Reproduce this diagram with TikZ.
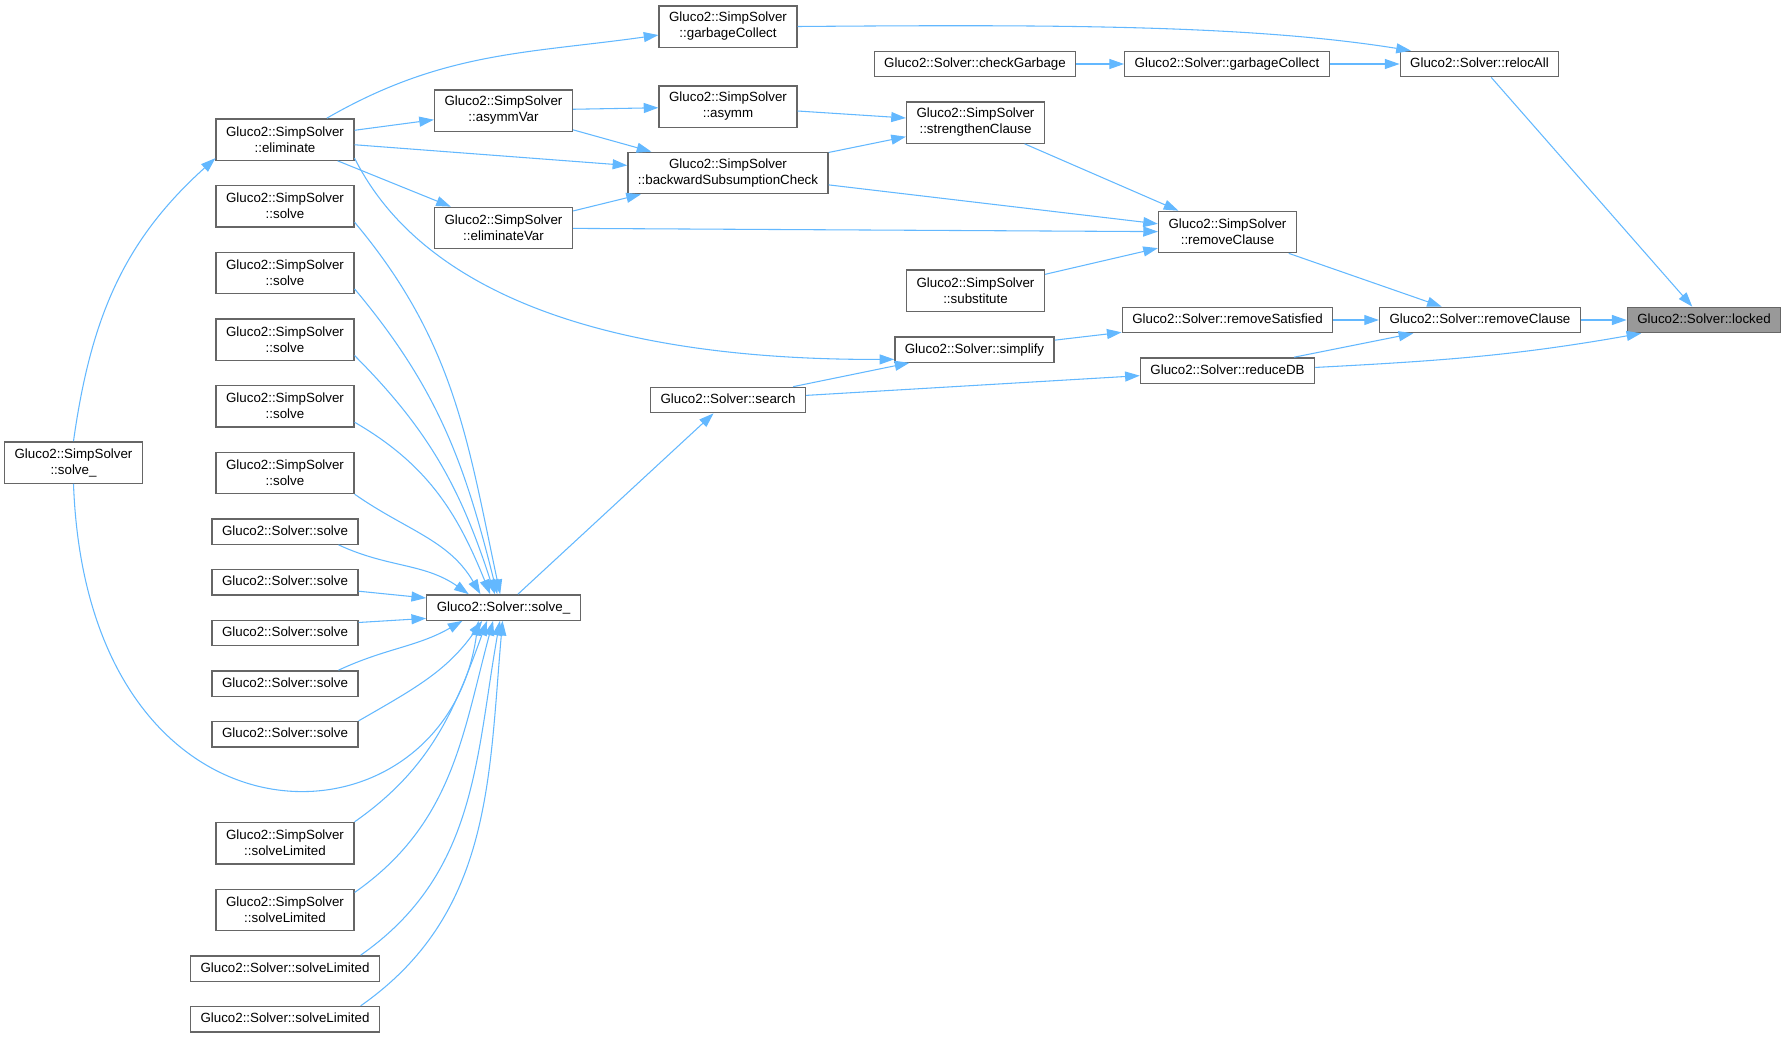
\documentclass[tikz,border=0pt]{standalone}
\usepackage{fontspec}
\setmainfont{Liberation Sans}
\usepackage{tikz}
\usetikzlibrary{arrows.meta,positioning}
\definecolor{callblue}{HTML}{63B8FF}
\definecolor{frame}{HTML}{666666}
\definecolor{focus}{HTML}{999999}

\begin{document}
\begin{tikzpicture}[
    x=0.75pt,y=0.75pt,
    node distance=18pt,
    box/.style={draw=frame,line width=1pt,fill=white,inner xsep=7.5pt,inner ysep=0pt,font=\fontsize{10}{12}\selectfont},
    fn/.style={box,minimum height=19pt,text height=7.5pt,text depth=2.1pt},
    member/.style={box,align=center,minimum height=31pt},
    focusbox/.style={fn,fill=focus},
    call/.style={-{Triangle[length=11pt,width=7.5pt]},draw=callblue,line width=0.8pt}
  ]
    \useasboundingbox (0,0) rectangle (1786,-1039);
    % left column
    \node[member] (ssolveU) at (73.5,-462.5) {Gluco2::SimpSolver\\::solve\_};
    \node[member] (elim) at (285,-139.5) {Gluco2::SimpSolver\\::eliminate};
    \node[member,below=of elim] (ssolve1) {Gluco2::SimpSolver\\::solve};
    \node[member,below=of ssolve1] (ssolve2) {Gluco2::SimpSolver\\::solve};
    \node[member,below=of ssolve2] (ssolve3) {Gluco2::SimpSolver\\::solve};
    \node[member,below=of ssolve3] (ssolve4) {Gluco2::SimpSolver\\::solve};
    \node[member,below=of ssolve4] (ssolve5) {Gluco2::SimpSolver\\::solve};
    \node[fn,below=of ssolve5] (solve1) {Gluco2::Solver::solve};
    \node[fn,below=of solve1] (solve2) {Gluco2::Solver::solve};
    \node[fn,below=of solve2] (solve3) {Gluco2::Solver::solve};
    \node[fn,below=of solve3] (solve4) {Gluco2::Solver::solve};
    \node[fn,below=of solve4] (solve5) {Gluco2::Solver::solve};
    \node[member,below=55.75pt of solve5] (sslim1) {Gluco2::SimpSolver\\::solveLimited};
    \node[member,below=of sslim1] (sslim2) {Gluco2::SimpSolver\\::solveLimited};
    \node[fn,below=of sslim2] (slim1) {Gluco2::Solver::solveLimited};
    \node[fn,below=of slim1] (slim2) {Gluco2::Solver::solveLimited};
    % middle
    \node[member] (asymmVar) at (503.5,-110.5) {Gluco2::SimpSolver\\::asymmVar};
    \node[member] (elimVar) at (503.5,-228) {Gluco2::SimpSolver\\::eliminateVar};
    \node[fn] (solveU) at (503.5,-607.5) {Gluco2::Solver::solve\_};
    \node[member] (sgc) at (728,-26.5) {Gluco2::SimpSolver\\::garbageCollect};
    \node[member] (asymm) at (728,-106.5) {Gluco2::SimpSolver\\::asymm};
    \node[member] (bsc) at (728,-173) {Gluco2::SimpSolver\\::backwardSubsumptionCheck};
    \node[fn] (search) at (728,-400) {Gluco2::Solver::search};
    \node[fn] (checkGc) at (975,-64) {Gluco2::Solver::checkGarbage};
    \node[member] (strengthen) at (975.5,-122.5) {Gluco2::SimpSolver\\::strengthenClause};
    \node[member] (substitute) at (975.5,-290.5) {Gluco2::SimpSolver\\::substitute};
    \node[fn] (simplify) at (974.5,-349.5) {Gluco2::Solver::simplify};
    % right
    \node[fn] (gc) at (1227,-64) {Gluco2::Solver::garbageCollect};
    \node[member] (ssRemove) at (1227.5,-232) {Gluco2::SimpSolver\\::removeClause};
    \node[fn] (removeSat) at (1227.5,-320) {Gluco2::Solver::removeSatisfied};
    \node[fn] (reduceDB) at (1227.5,-370.5) {Gluco2::Solver::reduceDB};
    \node[fn] (relocAll) at (1479.5,-64) {Gluco2::Solver::relocAll};
    \node[fn] (sRemove) at (1480,-320) {Gluco2::Solver::removeClause};
    \node[focusbox] (locked) at (1704,-320) {Gluco2::Solver::locked};

    \draw[call] (ssolveU.north) to[out=82,in=222] (elim.195);
    \draw[call] (ssolveU.south) .. controls +(14,-386) and +(-33,-239) .. (solveU.208);
    \draw[call] (elim.27) to[out=30,in=188] (sgc.187);
    \draw[call] (elim) -- (asymmVar);
    \draw[call] (elim) -- (bsc);
    \draw[call] (elim) -- (elimVar);
    \draw[call] (elim.-15) .. controls +(66,-132) and +(-294,-1) .. (simplify.187);
    \draw[call] (asymmVar) -- (asymm);
    \draw[call] (asymmVar) -- (bsc);
    \draw[call] (elimVar) -- (bsc);
    \draw[call] (elimVar) -- (ssRemove);
    \draw[call] (asymm) -- (strengthen);
    \draw[call] (bsc) -- (strengthen);
    \draw[call] (bsc) -- (ssRemove);
    \draw[call] (strengthen) -- (ssRemove);
    \draw[call] (substitute) -- (ssRemove);
    \draw[call] (ssRemove) -- (sRemove);
    \draw[call] (removeSat) -- (sRemove);
    \draw[call] (reduceDB) -- (sRemove);
    \draw[call] (sRemove) -- (locked);
    \draw[call] (reduceDB.2) to[out=3,in=190] (locked.192);
    \draw[call] (relocAll) -- (locked);
    \draw[call] (sgc.east) .. controls +(253,2) and +(-162,26) .. (relocAll.169);
    \draw[call] (checkGc) -- (gc);
    \draw[call] (gc) -- (relocAll);
    \draw[call] (simplify) -- (removeSat);
    \draw[call] (search) -- (simplify);
    \draw[call] (search) -- (reduceDB);
    \draw[call] (solveU) -- (search);
    % callers of solve_
    \draw[call] (ssolve1.-13) to[out=-50,in=102] (solveU.104);
    \draw[call] (ssolve2.-13) to[out=-50,in=104] (solveU.115);
    \draw[call] (ssolve3.-13) to[out=-45,in=108] (solveU.123);
    \draw[call] (ssolve4.-13) to[out=-30,in=112] (solveU.135);
    \draw[call] (ssolve5.south east) to[out=-35,in=120] (solveU.150);
    \draw[call] (solve1.-14) to[out=-25,in=145] (solveU.159);
    \draw[call] (solve2.-7) -- (solveU.173);
    \draw[call] (solve3.8) -- (solveU.188);
    \draw[call] (solve4.14) to[out=25,in=210] (solveU.198);
    \draw[call] (solve5.north east) to[out=30,in=235] (solveU.212);
    \draw[call] (sslim1.north east) to[out=35,in=250] (solveU.219);
    \draw[call] (sslim2.14) to[out=35,in=255] (solveU.232);
    \draw[call] (slim1.10) to[out=35,in=260] (solveU.255);
    \draw[call] (slim2.10) to[out=35,in=265] (solveU.266);
  \end{tikzpicture}
\end{document}
